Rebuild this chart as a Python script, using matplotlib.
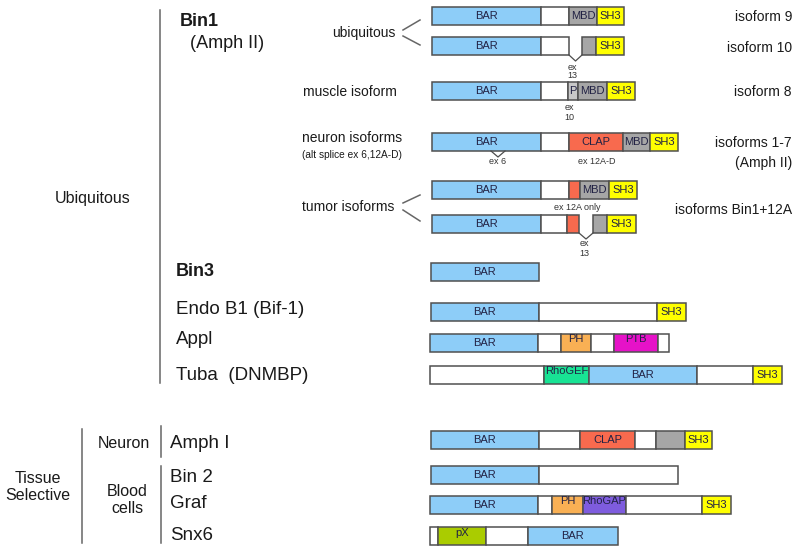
import matplotlib
matplotlib.use('Agg')
import matplotlib.pyplot as plt
from matplotlib.patches import Rectangle

plt.rcParams['font.family'] = ['Liberation Sans', 'DejaVu Sans']

# domain maps: (domain, start, end) in diagram units; '' = linker, *_part = unlabeled fragment
iso9 = [('BAR', 432, 541), ('', 541, 569), ('MBD', 569, 597), ('SH3', 597, 624)]
iso10 = [('BAR', 432, 541), ('', 541, 569), ('MBD_part', 582, 596), ('SH3', 596, 624)]
iso8 = [('BAR', 432, 541), ('', 541, 568), ('P', 568, 578), ('MBD', 578, 607), ('SH3', 607, 635)]
iso1_7 = [('BAR', 432, 541), ('', 541, 569), ('CLAP', 569, 623), ('MBD', 623, 650), ('SH3', 650, 678)]
tumor1 = [('BAR', 432, 541), ('', 541, 569), ('CLAP_part', 569, 580), ('MBD', 580, 609), ('SH3', 609, 637)]
tumor2 = [('BAR', 432, 541), ('', 541, 567), ('CLAP_part', 567, 579), ('MBD_part', 593, 607), ('SH3', 607, 636)]
bin3 = [('BAR', 431, 539)]
endoB1 = [('BAR', 431, 539), ('', 539, 657), ('SH3', 657, 686)]
appl = [('BAR', 430, 538), ('', 538, 561), ('PH', 561, 591), ('', 591, 614), ('PTB', 614, 658), ('', 658, 669)]
tuba = [('', 430, 544), ('RhoGEF', 544, 589), ('BAR', 589, 697), ('', 697, 753), ('SH3', 753, 782)]
amph1 = [('BAR', 431, 539), ('', 539, 580), ('CLAP', 580, 635), ('', 635, 656), ('MBD_part', 656, 685), ('SH3', 685, 712)]
bin2 = [('BAR', 431, 539), ('', 539, 678)]
graf = [('BAR', 430, 538), ('', 538, 552), ('PH', 552, 583), ('RhoGAP', 583, 626), ('', 626, 702), ('SH3', 702, 731)]
snx6 = [('', 430, 438), ('pX', 438, 486), ('', 486, 528), ('BAR', 528, 618)]

rows = [iso9, iso10, iso8, iso1_7, tumor1, tumor2, bin3, endoB1, appl, tuba, amph1, bin2, graf, snx6]
row_top = [7, 37, 82, 133, 181, 215, 263, 303, 334, 366, 431, 466, 496, 527]
row_h = 18

colors = {'': 'white', 'BAR': '#8DCDF8', 'SH3': '#FFFF00', 'MBD': '#A6A6A6', 'MBD_part': '#A6A6A6',
          'P': '#C8C8C8', 'CLAP': '#F86A4E', 'CLAP_part': '#F86A4E', 'PH': '#F9B054',
          'PTB': '#E612C8', 'RhoGEF': '#18E394', 'RhoGAP': '#7E5CDE', 'pX': '#AACC00'}
top_labels = ['PH', 'PTB', 'RhoGEF', 'RhoGAP', 'pX']

# splice sites drawn as a V below the row: (row index, left, right)
splices = [(1, 569, 582), (5, 579, 593), (3, 491, 505)]

# small annotations under rows
notes = [('ex', 572, 67), ('13', 572, 76), ('ex', 569, 107), ('10', 569, 117),
         ('ex 6', 498, 162), ('ex 12A-D', 597, 162), ('ex 12A only', 577, 208),
         ('ex', 584, 244), ('13', 584, 253)]

fig = plt.figure(figsize=(8, 5.52), dpi=100)
ax = fig.add_axes([0, 0, 1, 1])
ax.set_xlim(0, 800)
ax.set_ylim(552, 0)
ax.axis('off')

for doms, top in zip(rows, row_top):
    for name, x0, x1 in doms:
        ax.add_patch(Rectangle((x0, top), x1 - x0, row_h, facecolor=colors[name],
                               edgecolor='#505050', lw=1.1))
        if name == '' or name.endswith('_part'):
            continue
        if name in top_labels:
            ax.text((x0 + x1) / 2, top + 0.5, name, ha='center', va='top', fontsize=8, color='#222244')
        else:
            ax.text((x0 + x1) / 2, top + row_h / 2, name, ha='center', va='center',
                    fontsize=8, color='#222244')

for r, xl, xr in splices:
    yb = row_top[r] + row_h
    ax.plot([xl, (xl + xr) / 2, xr], [yb, yb + 6, yb], color='#4D4D4D', lw=0.9)

for t, x, y in notes:
    ax.text(x, y, t, ha='center', va='center', fontsize=6.5, color='#333333')

# left hierarchy lines
line_kw = dict(color='#666666', lw=1.1)
ax.plot([160, 160], [10, 383], **line_kw)
ax.plot([82, 82], [429, 543], **line_kw)
ax.plot([161, 161], [426, 457], **line_kw)
ax.plot([161, 161], [466, 543], **line_kw)

# bracket lines for grouped isoforms
ax.plot([403, 420], [30, 20], **line_kw)
ax.plot([403, 420], [36, 45], **line_kw)
ax.plot([403, 420], [203, 195], **line_kw)
ax.plot([403, 420], [210, 221], **line_kw)

txt = '#1a1a1a'
ax.text(93, 198, 'Ubiquitous', ha='center', va='center', fontsize=11.5, color=txt)
ax.text(38, 487, 'Tissue\nSelective', ha='center', va='center', fontsize=11.5, linespacing=1.15, color=txt)
ax.text(124, 443, 'Neuron', ha='center', va='center', fontsize=11.5, color=txt)
ax.text(127, 500, 'Blood\ncells', ha='center', va='center', fontsize=11.5, linespacing=1.1, color=txt)

ax.text(180, 22, 'Bin1', ha='left', va='center', fontsize=13, fontweight='bold', color=txt)
ax.text(190, 43, '(Amph II)', ha='left', va='center', fontsize=13, color=txt)
ax.text(176, 272, 'Bin3', ha='left', va='center', fontsize=13, fontweight='bold', color=txt)
names = [('Endo B1 (Bif-1)', 310), ('Appl', 340), ('Tuba  (DNMBP)', 375)]
for t, y in names:
    ax.text(176, y, t, ha='left', va='center', fontsize=13.5, color=txt)
names2 = [('Amph I', 443), ('Bin 2', 477), ('Graf', 504), ('Snx6', 535)]
for t, y in names2:
    ax.text(170, y, t, ha='left', va='center', fontsize=13.5, color=txt)

mid = [('ubiquitous', 364, 33), ('muscle isoform', 350, 92), ('neuron isoforms', 352, 138),
       ('tumor isoforms', 348, 207)]
for t, x, y in mid:
    ax.text(x, y, t, ha='center', va='center', fontsize=10, color=txt)
ax.text(352, 155, '(alt splice ex 6,12A-D)', ha='center', va='center', fontsize=7.3, color=txt)

right = [('isoform 9', 17), ('isoform 10', 48), ('isoform 8', 92), ('isoforms 1-7', 143),
         ('(Amph II)', 163), ('isoforms Bin1+12A', 210)]
for t, y in right:
    ax.text(792, y, t, ha='right', va='center', fontsize=10, color=txt)

fig.savefig('out.png', dpi=100)
